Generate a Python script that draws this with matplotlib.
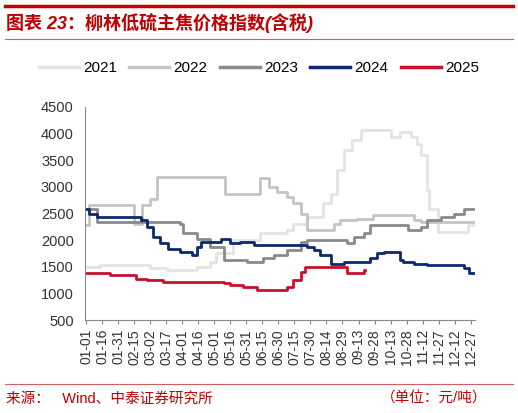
import numpy as np
import matplotlib
matplotlib.use("Agg")
import matplotlib.pyplot as plt
from matplotlib.lines import Line2D

plt.rcParams['font.family'] = ['Liberation Sans', 'Noto Sans CJK SC', 'DejaVu Sans']

# step breakpoints: (day of year, price) -- price holds until next breakpoint
S2021 = [(1, 1500), (14, 1530), (61, 1470), (77, 1440), (105, 1500), (117, 1590), (123, 1750),
         (139, 2000), (164, 2125), (189, 2190), (195, 2300), (208, 2440), (223, 2690), (230, 2875),
         (236, 3310), (242, 3690), (250, 3875), (258, 4060), (286, 3940), (295, 4030), (305, 3940),
         (311, 3810), (314, 3590), (320, 2940), (322, 2590), (330, 2160), (358, 2280), (365, 2280)]
S2022 = [(1, 2280), (4, 2660), (45, 2660), (46, 2310), (53, 2660), (61, 2780), (67, 3190),
         (131, 2875), (164, 3160), (172, 3000), (180, 2900), (189, 2810), (195, 2690), (202, 2500),
         (208, 2190), (233, 2310), (239, 2375), (255, 2400), (270, 2470), (308, 2375), (314, 2340),
         (365, 2340)]
S2023 = [(1, 2590), (11, 2340), (89, 2310), (92, 2125), (105, 2030), (117, 1875), (130, 1625),
         (152, 1590), (167, 1660), (177, 1720), (189, 1810), (202, 1970), (208, 2000), (245, 1940),
         (252, 2060), (261, 2125), (267, 2280), (302, 2190), (314, 2250), (320, 2375), (333, 2440),
         (345, 2500), (355, 2590), (365, 2590)]
S2024 = [(1, 2590), (4, 2500), (11, 2440), (52, 2375), (58, 2250), (64, 2060), (70, 1940),
         (78, 1840), (89, 1780), (100, 1720), (105, 1875), (109, 1970), (127, 2030), (136, 1940),
         (145, 1970), (158, 1910), (208, 1875), (214, 1810), (220, 1720), (230, 1560), (242, 1590),
         (267, 1660), (273, 1750), (280, 1780), (295, 1625), (298, 1590), (308, 1560), (320, 1530),
         (355, 1470), (359, 1375), (365, 1375)]
S2025 = [(1, 1375), (23, 1340), (48, 1280), (58, 1250), (73, 1220), (130, 1190), (136, 1155),
         (148, 1125), (161, 1060), (189, 1125), (195, 1250), (202, 1410), (206, 1500), (245, 1375),
         (261, 1440), (262, 1440)]

YEARS = ['2021', '2022', '2023', '2024', '2025']
SERIES = [S2021, S2022, S2023, S2024, S2025]
COLORS = ['#E3E3E3', '#C4C4C4', '#8A8A8A', '#0B2A6B', '#C8102E']

TICK_LABELS = ['01-01', '01-16', '01-31', '02-15', '03-02', '03-17', '04-01', '04-16', '05-01',
               '05-16', '05-31', '06-15', '06-30', '07-15', '07-30', '08-14', '08-29', '09-13',
               '09-28', '10-13', '10-28', '11-12', '11-27', '12-12', '12-27']
TICK_DAYS = [1 + 15 * i for i in range(len(TICK_LABELS))]

fig = plt.figure(figsize=(5.18, 4.13), dpi=100)
ax = fig.add_axes([0.164, 0.225, 0.753, 0.516])

for s, c in zip(SERIES, COLORS):
    d = [p[0] for p in s]
    v = [p[1] for p in s]
    ax.step(d, v, where='post', color=c, lw=2)

ax.set_ylim(500, 4500)
ax.set_yticks(range(500, 4501, 500))
ax.set_xlim(0, 365)
ax.set_xticks(TICK_DAYS)
ax.set_xticklabels(TICK_LABELS, rotation=90, fontsize=10, color='#333333')
ax.tick_params(axis='y', labelsize=10.5, length=0, colors='#333333', pad=8)
ax.tick_params(axis='x', length=3, color='#888888')
for sp in ['top', 'right']:
    ax.spines[sp].set_visible(False)
for sp in ['left', 'bottom']:
    ax.spines[sp].set_color('#888888')

handles = [Line2D([0], [0], color=c, lw=2.5) for c in COLORS]
fig.legend(handles, YEARS, loc='center', bbox_to_anchor=(0.5, 0.835), ncol=5, frameon=False,
           fontsize=11, handlelength=2.6, columnspacing=0.8, handletextpad=0.3)

red = '#C00000'
fig.add_artist(Line2D([0.01, 0.99], [0.985, 0.985], color=red, lw=2.5))
fig.add_artist(Line2D([0.01, 0.99], [0.905, 0.905], color='#D06060', lw=0.8))
fig.text(0.012, 0.945, '图表 23：柳林低硫主焦价格指数(含税)', color=red, fontsize=13,
         fontweight='bold', style='italic', va='center')
fig.add_artist(Line2D([0.01, 0.99], [0.07, 0.07], color='#D06060', lw=0.8))
fig.text(0.012, 0.035, '来源：   Wind、中泰证券研究所', color=red, fontsize=10.5, va='center')
fig.text(0.94, 0.035, '（单位：元/吨）', color=red, fontsize=10.5, va='center', ha='right')

fig.savefig('out.png', dpi=100)
